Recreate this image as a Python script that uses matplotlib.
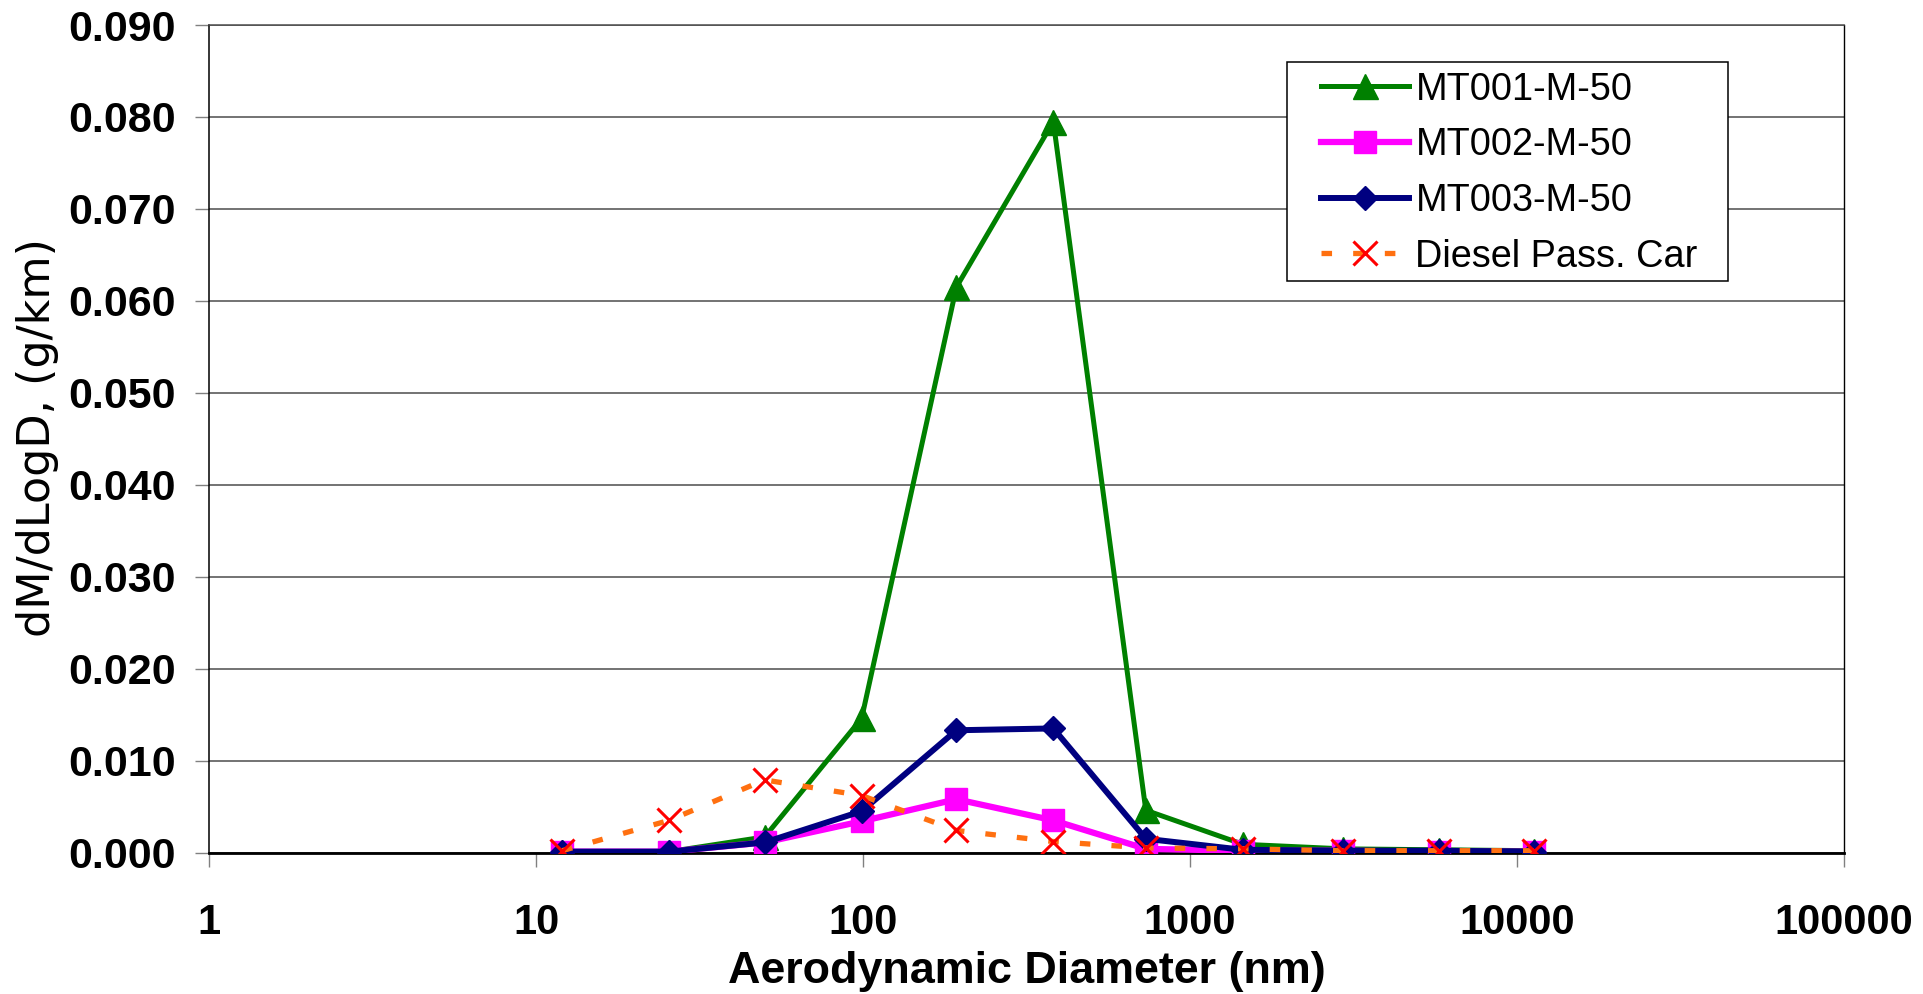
import matplotlib
matplotlib.use("Agg")
import matplotlib.pyplot as plt
from matplotlib.font_manager import FontProperties
from matplotlib.patches import Rectangle
from matplotlib.ticker import FixedLocator, FuncFormatter, NullLocator

# Impactor stage mid-point diameters (nm)
diameter_nm = [12.0, 25.5, 50.0, 99, 193, 382, 733, 1452, 2940, 5770, 11320]

# Mass size distributions, dM/dLogD (g/km)
mt001 = [0.0001, 0.0001, 0.0017, 0.0146, 0.0615, 0.0795, 0.0046, 0.0009, 0.0004, 0.0003, 0.0002]
mt002 = [0.0001, 0.0001, 0.0011, 0.0034, 0.0058, 0.0035, 0.0004, 0.0002, 0.0002, 0.0001, 0.0001]
mt003 = [0.0001, 0.0001, 0.0011, 0.0045, 0.0133, 0.0135, 0.0015, 0.0003, 0.0002, 0.0002, 0.0001]
diesel = [0.0002, 0.0035, 0.0079, 0.0062, 0.0024, 0.0012, 0.0005, 0.0004, 0.0002, 0.0002, 0.0002]

series_labels = ["MT001-M-50", "MT002-M-50", "MT003-M-50", "Diesel Pass. Car"]
x_ticks = [1, 10, 100, 1000, 10000, 100000]
y_ticks = [0.000, 0.010, 0.020, 0.030, 0.040, 0.050, 0.060, 0.070, 0.080, 0.090]

fig = plt.figure(figsize=(19.23, 9.94), dpi=100)
ax = fig.add_axes([0.1089, 0.1423, 0.8498, 0.8325])

ax.plot(diameter_nm, mt001, color="#008000", lw=3.6, marker="^", ms=18,
        markeredgecolor="#008000", label=series_labels[0], zorder=3)
ax.plot(diameter_nm, mt002, color="#FF00FF", lw=4.5, marker="s", ms=16.5,
        markeredgecolor="#FF00FF", label=series_labels[1], zorder=4)
ax.plot(diameter_nm, mt003, color="#000080", lw=4.3, marker="D", ms=12,
        markeredgecolor="#000080", label=series_labels[2], zorder=5)
ax.plot(diameter_nm, diesel, color="#FF7010", lw=3.8, ls=(0, (2.0, 4.0)),
        marker="x", ms=17, mew=2.2, markeredgecolor="#FF0000",
        label=series_labels[3], zorder=6)

ax.set_xscale("log")
ax.set_xlim(x_ticks[0], x_ticks[-1])
ax.set_ylim(y_ticks[0], y_ticks[-1])

ax.xaxis.set_major_locator(FixedLocator(x_ticks))
ax.xaxis.set_minor_locator(NullLocator())
ax.xaxis.set_major_formatter(FuncFormatter(lambda v, p: f"{v:.0f}"))
ax.yaxis.set_major_locator(FixedLocator(y_ticks))
ax.yaxis.set_major_formatter(FuncFormatter(lambda v, p: f"{v:.3f}"))

xtick_font = FontProperties(family="Liberation Sans", weight="bold", size=30)
ytick_font = FontProperties(family="Liberation Sans", weight="bold", size=31)
for lab in ax.get_xticklabels():
    lab.set_fontproperties(xtick_font)
for lab in ax.get_yticklabels():
    lab.set_fontproperties(ytick_font)

ax.tick_params(axis="x", direction="out", length=10.4, width=1.0,
               color="#808080", pad=26)
ax.tick_params(axis="y", direction="out", length=10.4, width=1.0,
               color="#808080", pad=14)

ax.grid(axis="y", color="#4d4d4d", lw=1.1)
ax.set_axisbelow(True)

ax.spines["left"].set_color("black")
ax.spines["left"].set_linewidth(1.1)
ax.spines["bottom"].set_color("black")
ax.spines["bottom"].set_linewidth(2.0)
ax.spines["right"].set_color("black")
ax.spines["right"].set_linewidth(1.0)
ax.spines["top"].set_color("#4d4d4d")
ax.spines["top"].set_linewidth(1.1)

ax.set_xlabel("Aerodynamic Diameter (nm)", fontfamily="Liberation Sans",
              fontweight="bold", fontsize=32.3)
ax.xaxis.label.set_va("baseline")
ax.xaxis.set_label_coords(0.5, -0.158)

ax.set_ylabel("dM/dLogD, (g/km)", fontfamily="DejaVu Sans", fontsize=32)
ax.yaxis.set_label_coords(-0.0918, 0.502)

# Legend box: white panel with a thin black border behind the entries
legend_box = Rectangle((0.6594, 0.6906), 0.2699, 0.2647, transform=ax.transAxes,
                       facecolor="white", edgecolor="black", lw=1.1, zorder=7)
ax.add_patch(legend_box)

leg = ax.legend(loc="upper left", bbox_to_anchor=(0.6742, 0.9553),
                prop=dict(family="Liberation Sans", size=27.3),
                frameon=False, borderpad=0.25, labelspacing=0.52,
                handlelength=2.32, handletextpad=0.18, borderaxespad=0)
leg.set_zorder(8)

fig.savefig("out.png", dpi=100, facecolor="white")
